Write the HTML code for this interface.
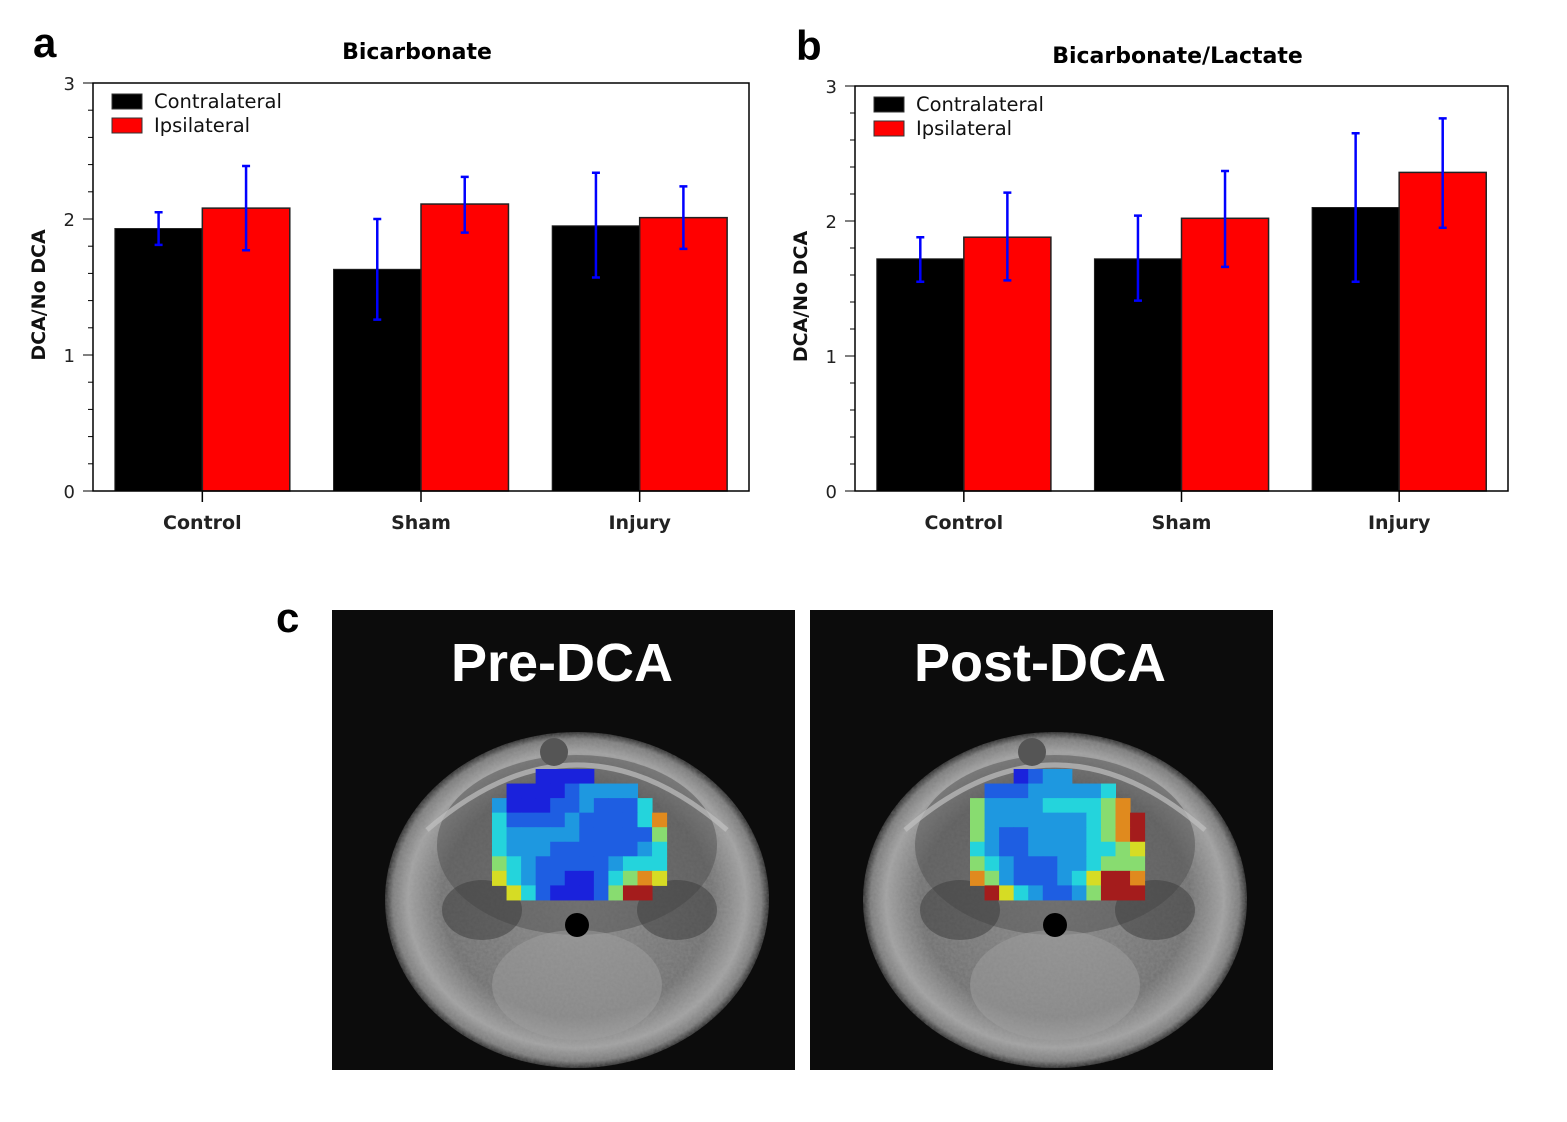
<!DOCTYPE html>
<html><head><meta charset="utf-8"><style>
html,body{margin:0;padding:0;background:#fff;width:1567px;height:1122px;overflow:hidden}
svg text{font-family:"DejaVu Sans","Liberation Sans",sans-serif}
svg text.lib{font-family:"Liberation Sans",sans-serif}
</style></head><body>
<svg id="fig" width="1567" height="1122" xmlns="http://www.w3.org/2000/svg">
<defs>
<radialGradient id="headg" cx="50%" cy="50%" r="50%">
<stop offset="0" stop-color="#8a8a8a"/><stop offset="0.7" stop-color="#707070"/><stop offset="0.88" stop-color="#a0a0a0"/><stop offset="0.96" stop-color="#7a7a7a"/><stop offset="1" stop-color="#2a2a2a"/>
</radialGradient>
<filter id="noise"><feTurbulence type="fractalNoise" baseFrequency="0.35" numOctaves="2" seed="3"/><feColorMatrix type="matrix" values="0 0 0 0 0.5  0 0 0 0 0.5  0 0 0 0 0.5  0 0 0 0.5 0"/><feComposite in2="SourceGraphic" operator="in"/></filter>
</defs>
</svg>
<script>
const categories = ["Control","Sham","Injury"];
const seriesNames = ["Contralateral","Ipsilateral"];
const aContra = [1.93,1.63,1.95];
const aContraLo = [1.81,1.26,1.57];
const aContraHi = [2.05,2.00,2.34];
const aIpsi = [2.08,2.11,2.01];
const aIpsiLo = [1.77,1.90,1.78];
const aIpsiHi = [2.39,2.31,2.24];
const bContra = [1.72,1.72,2.10];
const bContraLo = [1.55,1.41,1.55];
const bContraHi = [1.88,2.04,2.65];
const bIpsi = [1.88,2.02,2.36];
const bIpsiLo = [1.56,1.66,1.95];
const bIpsiHi = [2.21,2.37,2.76];
const yTicks = [0,1,2,3];
const preGrid = ["___dddd_____","_ddddbllll__","ldddbblbbbc_","cbbbblbbbbco","clllllbbbbbg","clllbbbbbblc","gclbbbbblccc","yclbbddbcgoy","_ycbdddbgrr_"];
const postGrid = ["___dbll_____","_bbblllllc__","gllllccccgo_","glllllllcgor","glbbllllcgor","clbbllllccgy","gclbbbllcggg","oglbbblcyrro","_ryclbblgrrr"];

const NS="http://www.w3.org/2000/svg";
const svg=document.getElementById('fig');
function el(tag,attrs,parent,text){const e=document.createElementNS(NS,tag);for(const k in attrs)e.setAttribute(k,attrs[k]);if(text!==undefined)e.textContent=text;(parent||svg).appendChild(e);return e;}

function chart(o){
  const g=el('g',{});
  
  
  const yS=v=>o.y0-(o.y0-o.y3)*v/3;
  const xC=i=>o.x0+(o.x1-o.x0)*(i+0.5)/3;
  const bw=(o.x1-o.x0)/3*0.8/2;
  for(let i=0;i<3;i++){
    const c=el('rect',{x:xC(i)-bw,y:yS(o.contra[i]),width:bw,height:yS(0)-yS(o.contra[i]),fill:'#000',stroke:'#222','stroke-width':1},g);
    
    
    const r=el('rect',{x:xC(i),y:yS(o.ipsi[i]),width:bw,height:yS(0)-yS(o.ipsi[i]),fill:'#ff0000',stroke:'#222','stroke-width':1.5},g);
    
    
    [[xC(i)-bw/2,o.cLo[i],o.cHi[i]],[xC(i)+bw/2,o.iLo[i],o.iHi[i]]].forEach(([x,lo,hi])=>{
      const eb=el('path',{d:`M${x},${yS(lo)}V${yS(hi)}M${x-4},${yS(lo)}h8M${x-4},${yS(hi)}h8`,stroke:'#0000ff','stroke-width':2.5,fill:'none'},g);
      
      
    });
    el('line',{x1:xC(i),x2:xC(i),y1:o.y0,y2:o.y0+11,stroke:'#000','stroke-width':1.5},g);
    const t=el('text',{x:xC(i),y:o.y0+38,'text-anchor':'middle','font-size':19,'font-weight':'bold',fill:'#222'},g,categories[i]);
    
    
  }
  el('rect',{x:o.x0,y:o.y3,width:o.x1-o.x0,height:o.y0-o.y3,fill:'none',stroke:'#000','stroke-width':1.5},g);
  for(let v=0;v<=3.001;v+=0.2){const y=yS(v);const major=Math.abs(v-Math.round(v))<1e-6;el('line',{x1:o.x0-(major?10:5),x2:o.x0,y1:y,y2:y,stroke:'#000','stroke-width':1},g);}
  yTicks.forEach(v=>{const t=el('text',{x:o.x0-18,y:yS(v)+7,'text-anchor':'end','font-size':18,fill:'#222'},g,String(v));});
  const yt=el('text',{transform:`translate(${o.x0-48},${(o.y0+o.y3)/2+8}) rotate(-90)`,'text-anchor':'middle','font-size':19,'font-weight':'bold',fill:'#111'},g,'DCA/No DCA');
  
  const ti=el('text',{x:(o.x0+o.x1)/2-4,y:o.titleY,'text-anchor':'middle','font-size':22,'font-weight':'bold',fill:'#000'},g,o.title);
  
  const pl=el('text',{x:o.letterX,y:o.letterY,'font-size':42,'font-weight':'bold',fill:'#000',class:'lib'},g,o.letter);
  
  [['#000',0],['#ff0000',1]].forEach(([c,k])=>{
    const ly=o.y3+11+k*24;
    el('rect',{x:o.x0+19,y:ly,width:30,height:15,fill:c,stroke:'#333','stroke-width':1},g);
    const t=el('text',{x:o.x0+61,y:ly+14,'font-size':19.5,fill:'#111'},g,seriesNames[k]);
    
  });
}
chart({name:'chart-bicarbonate',x0:93,x1:749,y0:491,y3:83,contra:aContra,ipsi:aIpsi,cLo:aContraLo,cHi:aContraHi,iLo:aIpsiLo,iHi:aIpsiHi,title:'Bicarbonate',titleY:59,letter:'a',letterX:33,letterY:57});
chart({name:'chart-bicarbonate-lactate',x0:855,x1:1508,y0:491,y3:86,contra:bContra,ipsi:bIpsi,cLo:bContraLo,cHi:bContraHi,iLo:bIpsiLo,iHi:bIpsiHi,title:'Bicarbonate/Lactate',titleY:63,letter:'b',letterX:796,letterY:60});

const colors={d:'#1a22dc',b:'#1e5ee2',l:'#1e98e0',c:'#24d4dc',g:'#88dc70',y:'#d6dc24',o:'#e08a1e',r:'#a41c1c'};
function mri(x,label,grid,name){
  const g=el('g',{});
  
  
  el('rect',{x:x,y:610,width:463,height:460,fill:'#0c0c0c'},g);
  el('ellipse',{cx:x+245,cy:900,rx:192,ry:168,fill:'url(#headg)'},g);
  el('ellipse',{cx:x+245,cy:900,rx:192,ry:168,fill:'#fff',filter:'url(#noise)',opacity:0.5},g);
  el('ellipse',{cx:x+245,cy:845,rx:140,ry:90,fill:'#505050',opacity:0.5},g);
  el('path',{d:`M${x+95},${830} Q${x+245},${700} ${x+395},${830}`,stroke:'#c0c0c0','stroke-width':5,fill:'none',opacity:0.7},g);
  el('ellipse',{cx:x+245,cy:985,rx:85,ry:55,fill:'#a0a0a0',opacity:0.5},g);
  el('ellipse',{cx:x+150,cy:910,rx:40,ry:30,fill:'#3a3a3a',opacity:0.5},g);
  el('ellipse',{cx:x+345,cy:910,rx:40,ry:30,fill:'#3a3a3a',opacity:0.5},g);
  el('circle',{cx:x+245,cy:925,r:12,fill:'#000'},g);
  el('circle',{cx:x+222,cy:752,r:14,fill:'#555'},g);
  const cs=14.55;
  grid.forEach((row,r)=>{for(let c=0;c<row.length;c++){const k=row[c];if(k==='_')continue;
    const cell=el('rect',{x:x+160+c*cs,y:769+r*cs,width:cs+0.5,height:cs+0.5,fill:colors[k]},g);
    
    }});
  const t=el('text',{x:x+230,y:681,'text-anchor':'middle','font-size':54,'font-weight':'bold',fill:'#fff',class:'lib'},g,label);
  
  
}
mri(332,'Pre-DCA',preGrid,'pre-dca-image');
mri(810,'Post-DCA',postGrid,'post-dca-image');
const pc=el('text',{x:276,y:632,'font-size':42,'font-weight':'bold',fill:'#000',class:'lib'},svg,'c');


</script>
</body></html>
